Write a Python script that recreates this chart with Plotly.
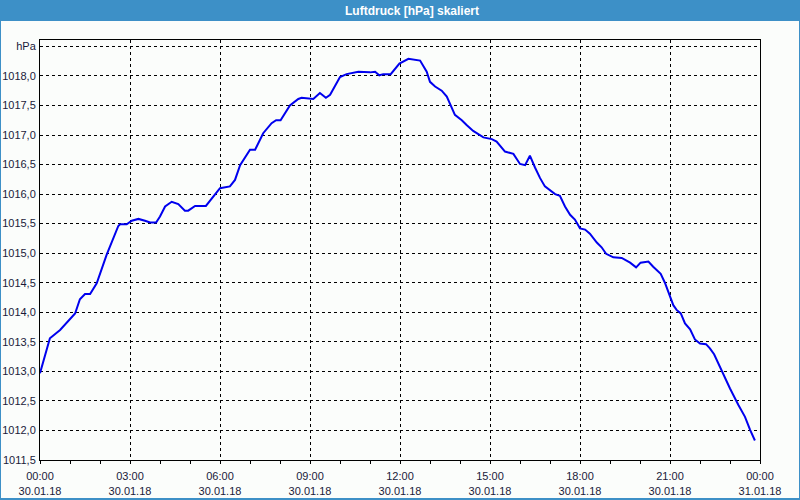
import plotly.graph_objects as go

# time of day in hours (30.01.18), pressure in hPa
hours = [0.0, 0.33, 0.67, 1.17, 1.33, 1.5, 1.67, 1.89, 2.22, 2.61, 2.67, 2.89, 3.06, 3.28, 3.5, 3.67,
         3.87, 4.0, 4.17, 4.39, 4.61, 4.83, 4.94, 5.17, 5.53, 5.78, 6.0, 6.33, 6.5, 6.67, 6.83, 7.0,
         7.17, 7.44, 7.72, 7.87, 8.02, 8.33, 8.61, 8.72, 9.11, 9.33, 9.53, 9.67, 10.0, 10.22, 10.61,
         11.0, 11.17, 11.31, 11.44, 11.69, 11.98, 12.28, 12.67, 12.89, 13.0, 13.17, 13.39, 13.56,
         13.83, 14.06, 14.22, 14.44, 14.78, 15.06, 15.22, 15.5, 15.78, 16.0, 16.17, 16.33, 16.5,
         16.67, 16.83, 17.0, 17.17, 17.33, 17.5, 17.67, 17.83, 18.0, 18.17, 18.33, 18.56, 18.72,
         18.87, 19.11, 19.39, 19.67, 19.87, 20.02, 20.28, 20.44, 20.69, 20.83, 20.98, 21.11, 21.22,
         21.36, 21.5, 21.67, 21.83, 22.0, 22.2, 22.33, 22.47, 22.69, 23.0, 23.28, 23.5, 23.67, 23.83]
pressure = [1012.97, 1013.56, 1013.70, 1013.98, 1014.22, 1014.31, 1014.31, 1014.49, 1014.97, 1015.46,
            1015.49, 1015.49, 1015.55, 1015.58, 1015.55, 1015.52, 1015.52, 1015.62, 1015.79, 1015.87,
            1015.83, 1015.72, 1015.72, 1015.80, 1015.80, 1015.96, 1016.10, 1016.13, 1016.24, 1016.49,
            1016.61, 1016.75, 1016.75, 1017.03, 1017.20, 1017.25, 1017.25, 1017.50, 1017.61, 1017.63,
            1017.61, 1017.71, 1017.63, 1017.68, 1017.98, 1018.03, 1018.07, 1018.06, 1018.07, 1018.01,
            1018.03, 1018.03, 1018.21, 1018.29, 1018.26, 1018.07, 1017.90, 1017.82, 1017.75, 1017.65,
            1017.34, 1017.25, 1017.17, 1017.07, 1016.96, 1016.93, 1016.89, 1016.72, 1016.68, 1016.51,
            1016.49, 1016.65, 1016.45, 1016.27, 1016.13, 1016.07, 1016.00, 1015.97, 1015.79, 1015.65,
            1015.57, 1015.42, 1015.40, 1015.33, 1015.18, 1015.10, 1014.99, 1014.93, 1014.92, 1014.84,
            1014.76, 1014.84, 1014.86, 1014.77, 1014.65, 1014.50, 1014.29, 1014.12, 1014.04, 1013.98,
            1013.81, 1013.71, 1013.54, 1013.47, 1013.46, 1013.39, 1013.29, 1013.04, 1012.71, 1012.43,
            1012.23, 1012.01, 1011.83]

x_tickvals = [0, 3, 6, 9, 12, 15, 18, 21, 24]
x_ticktext = ["00:00<br>30.01.18", "03:00<br>30.01.18", "06:00<br>30.01.18", "09:00<br>30.01.18",
              "12:00<br>30.01.18", "15:00<br>30.01.18", "18:00<br>30.01.18", "21:00<br>30.01.18",
              "00:00<br>31.01.18"]
y_tickvals = [1011.5, 1012.0, 1012.5, 1013.0, 1013.5, 1014.0, 1014.5, 1015.0, 1015.5, 1016.0,
              1016.5, 1017.0, 1017.5, 1018.0, 1018.5]
y_ticktext = ["1011,5", "1012,0", "1012,5", "1013,0", "1013,5", "1014,0", "1014,5", "1015,0",
              "1015,5", "1016,0", "1016,5", "1017,0", "1017,5", "1018,0", "hPa"]
title_text = "Luftdruck [hPa] skaliert"

W, H = 800, 500
L, R, T, B = 40, 40, 40, 40
PW, PH = W - L - R, H - T - B
BG = "#fbfdfb"
BLUE = "#3d90c7"


def px_x(p):
    return (p - L) / PW


def px_y(p):
    return (H - B - p) / PH


fig = go.Figure()
fig.add_trace(go.Scatter(x=hours, y=pressure, mode="lines",
                         line=dict(color="#0000ee", width=2), hoverinfo="skip"))

font = dict(family="Liberation Sans, Arial, sans-serif", size=11, color="#1a1a3a")

fig.update_layout(
    width=W, height=H,
    margin=dict(l=L, r=R, t=T, b=B, pad=0, autoexpand=False),
    paper_bgcolor=BLUE,
    plot_bgcolor=BG,
    showlegend=False,
    font=font,
    shapes=[
        dict(type="rect", xref="paper", yref="paper", layer="below",
             x0=px_x(1), x1=px_x(799), y0=px_y(498), y1=px_y(21),
             fillcolor=BG, line=dict(width=0)),
    ],
    annotations=[
        dict(text="<b>" + title_text + "</b>", xref="paper", yref="paper",
             x=px_x(412), y=px_y(10.5), showarrow=False, xanchor="center", yanchor="middle",
             font=dict(family="Liberation Sans, Arial, sans-serif", size=12, color="white")),
    ],
    xaxis=dict(
        range=[0, 24], tickmode="array", tickvals=x_tickvals, ticktext=x_ticktext,
        showgrid=True, gridcolor="black", gridwidth=1, griddash="3px,3px",
        zeroline=False, showline=True, linecolor="black", linewidth=1, mirror=True,
        ticks="outside", ticklen=3, tickcolor="black", tickwidth=1,
        minor=dict(tickmode="linear", tick0=0, dtick=1, ticks="outside", ticklen=3,
                   tickcolor="black", tickwidth=1, showgrid=False),
        tickfont=font, fixedrange=True, automargin=False, ticklabelstandoff=3,
    ),
    yaxis=dict(
        range=[1011.5, 1011.5 + PH / 59.09], tickmode="array", tickvals=y_tickvals,
        ticktext=y_ticktext,
        showgrid=True, gridcolor="black", gridwidth=1, griddash="3px,3px",
        zeroline=False, showline=True, linecolor="black", linewidth=1, mirror=True,
        ticks="", tickfont=font, fixedrange=True, automargin=False, ticklabelstandoff=1,
    ),
)

fig.write_html("out.html")
